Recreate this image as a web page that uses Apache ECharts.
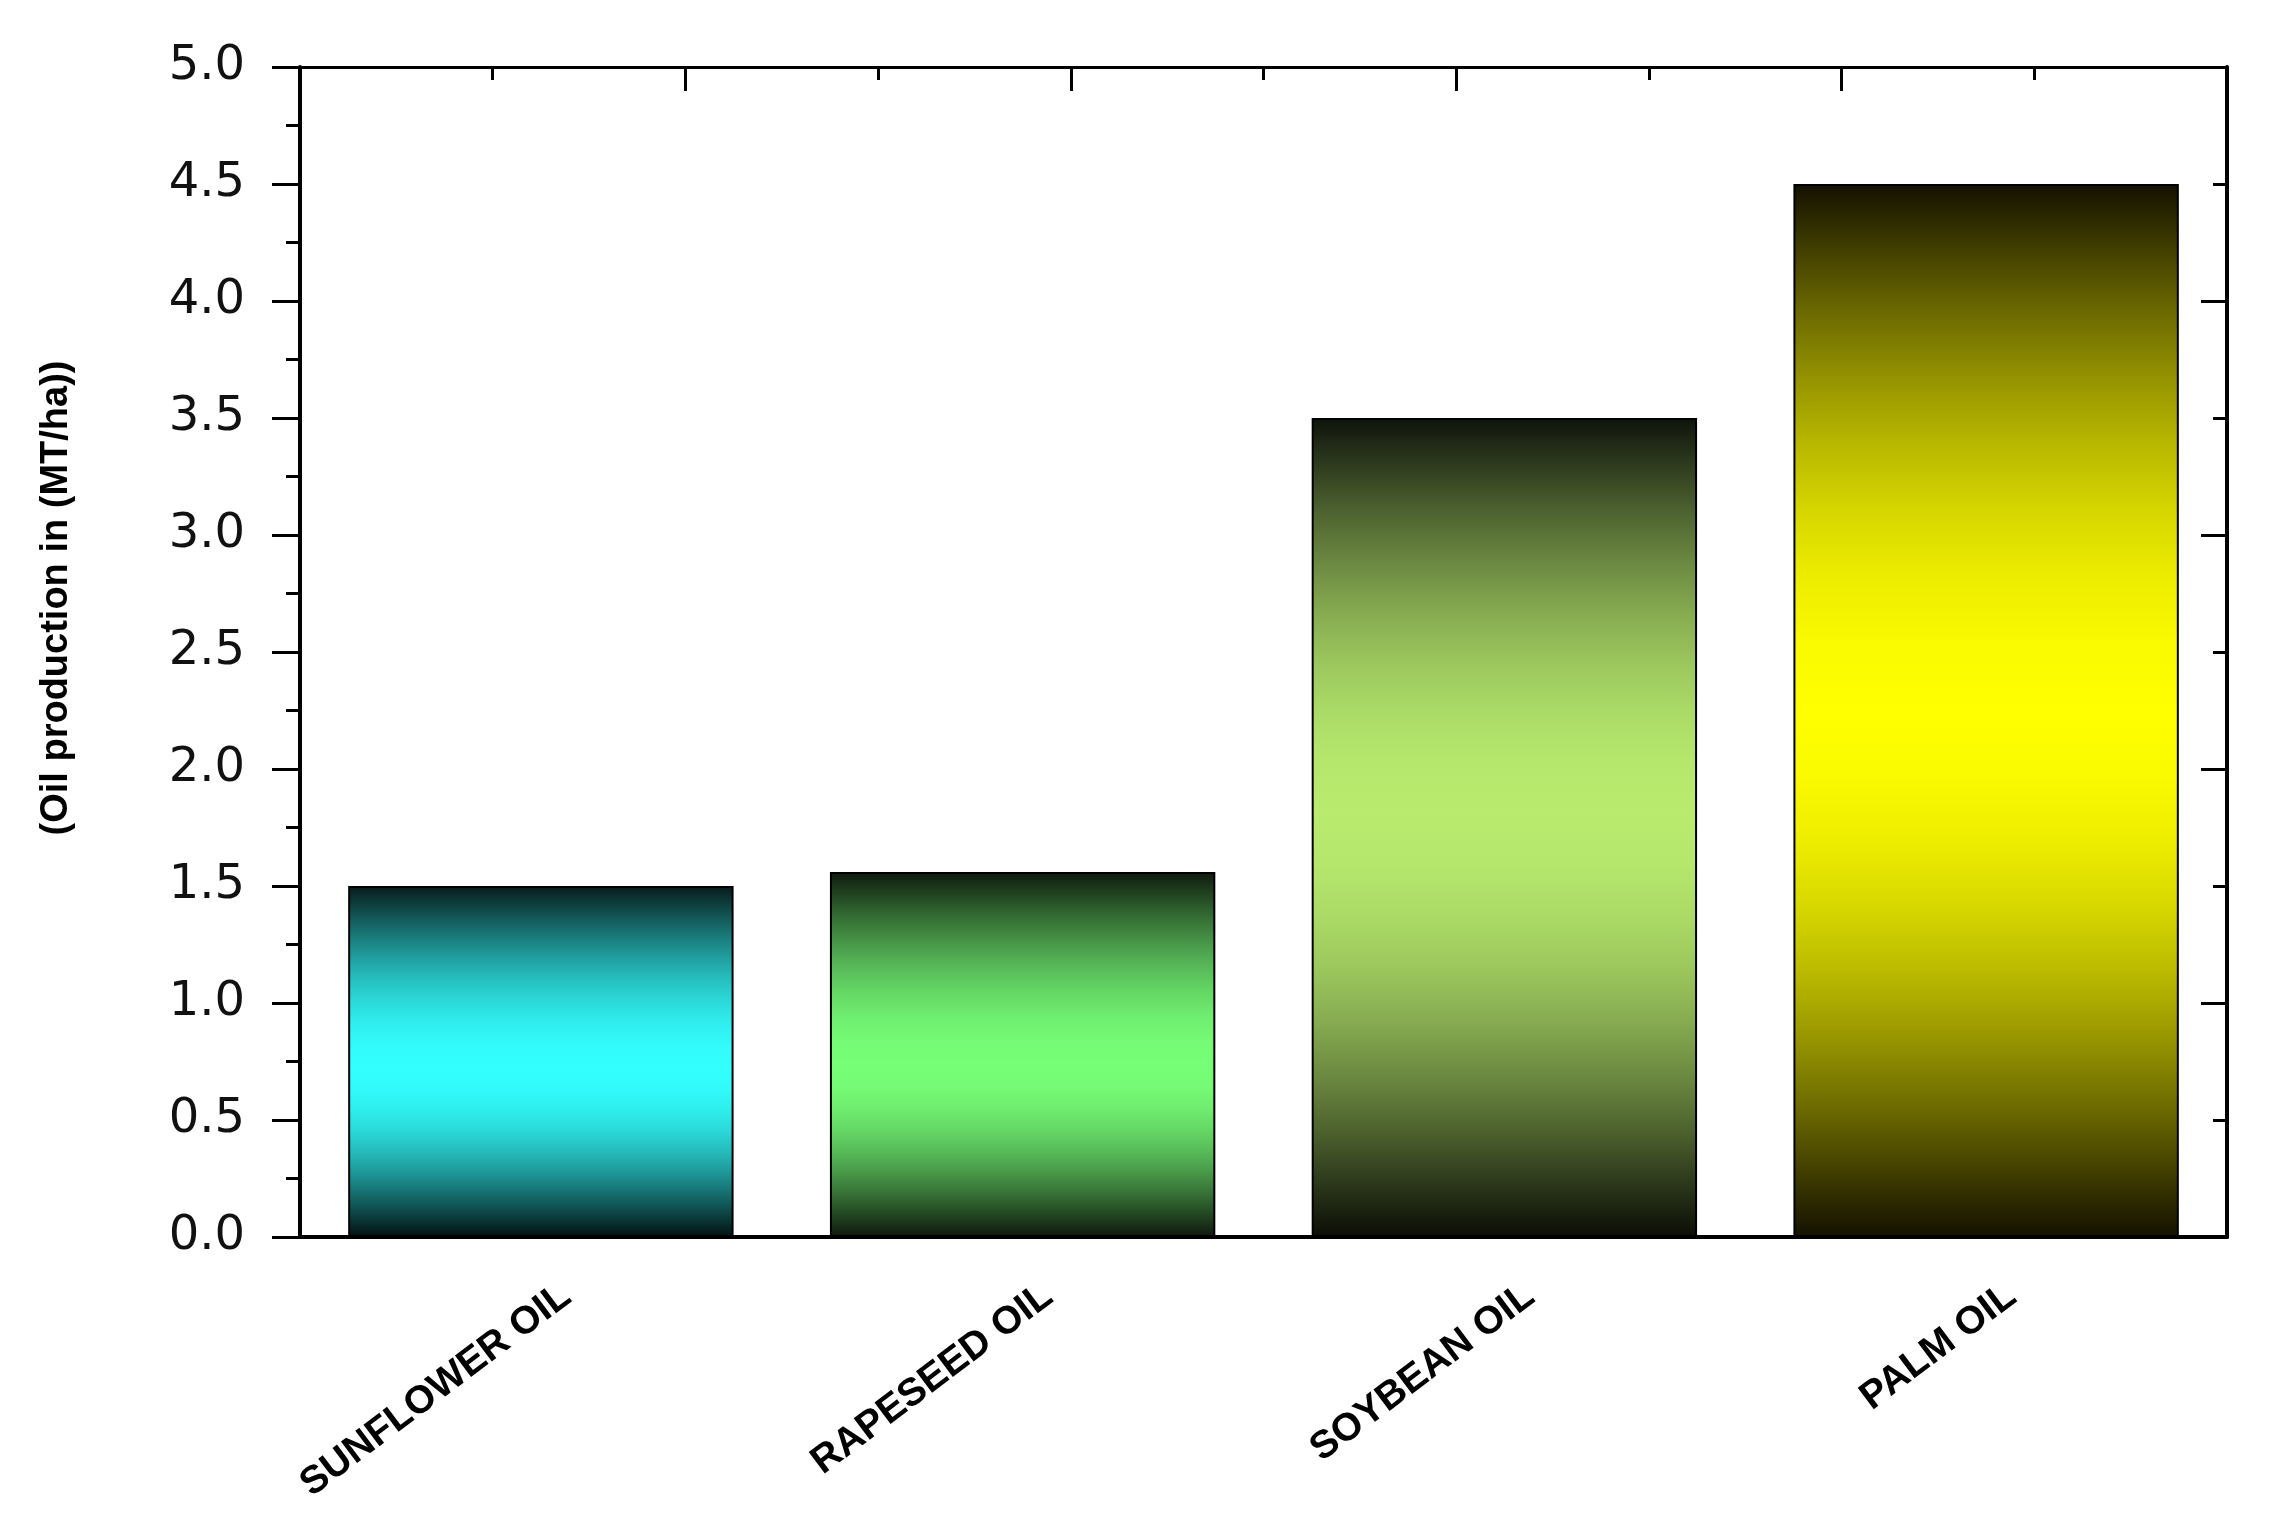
<!DOCTYPE html>
<html>
<head>
<meta charset="utf-8">
<title>Oil production</title>
<script src="https://cdn.jsdelivr.net/npm/echarts@6/dist/echarts.min.js"></script>
<style>
  html, body { margin: 0; padding: 0; background: #fff; }
  #chart { width: 2278px; height: 1523px; }
</style>
</head>
<body>
<div id="chart"></div>
<script>
// data
const categories = ['SUNFLOWER OIL', 'RAPESEED OIL', 'SOYBEAN OIL', 'PALM OIL']
const production = [1.5, 1.56, 3.5, 4.5]

// bar shading: dark at both ends, bright in the middle
const edgeTop = ['#081a1a', '#0f1a0f', '#0f130c', '#141100']
const peakColor = ['#33ffff', '#77ff77', '#b8eb6e', '#ffff00']
const edgeBottom = ['#021010', '#0d170d', '#0a0d06', '#141100']
const peakAt = [0.52, 0.53, 0.48, 0.5]

const chart = echarts.init(document.getElementById('chart'))

// mix two hex colours, t = 0 gives a, t = 1 gives b
const mix = (a, b, t) => {
  const pa = [1, 3, 5].map(k => parseInt(a.substr(k, 2), 16))
  const pb = [1, 3, 5].map(k => parseInt(b.substr(k, 2), 16))
  return 'rgb(' + pa.map((c, k) => Math.round(c + (pb[k] - c) * t)).join(',') + ')'
}

// smooth (sine shaped) shading between the ends and the bright band
const shade = i => {
  const stops = []
  const steps = 8
  for (let s = 0; s <= steps; s++) {
    const f = s / steps
    stops.push({ offset: peakAt[i] * f, color: mix(edgeTop[i], peakColor[i], Math.sin(f * Math.PI / 2)) })
  }
  for (let s = steps - 1; s >= 0; s--) {
    const f = s / steps
    stops.push({ offset: 1 - (1 - peakAt[i]) * f, color: mix(edgeBottom[i], peakColor[i], Math.sin(f * Math.PI / 2)) })
  }
  return new echarts.graphic.LinearGradient(0, 0, 0, 1, stops)
}

const barData = production.map((v, i) => ({
  value: v,
  itemStyle: { color: shade(i) }
}))

const lineStyle = w => ({ show: true, lineStyle: { color: '#000', width: w } })

const option = {
  backgroundColor: '#fff',
  animation: false,
  grid: { left: 300, right: 51, top: 67, bottom: 286, containLabel: false },
  xAxis: [
    {
      type: 'category',
      position: 'bottom',
      data: categories,
      axisLine: lineStyle(4),
      axisTick: { alignWithLabel: true, length: 21, lineStyle: { color: '#000', width: 3 } },
      axisLabel: {
        interval: 0,
        rotate: 37,
        margin: 74,
        padding: [0, -32, 0, 0],
        color: '#000',
        fontFamily: 'Liberation Sans',
        fontWeight: 'bold',
        fontSize: 39
      }
    },
    {
      type: 'category',
      position: 'bottom',
      data: categories,
      axisLine: { show: false },
      axisTick: { length: 9, lineStyle: { color: '#000', width: 3 } },
      axisLabel: { show: false }
    },
    {
      type: 'value',
      position: 'top',
      min: 0,
      max: 10,
      interval: 2,
      axisLine: lineStyle(3),
      axisTick: { inside: true, length: 24, lineStyle: { color: '#000', width: 3 } },
      minorTick: { show: true, splitNumber: 2, length: 13, lineStyle: { color: '#000', width: 3 } },
      axisLabel: { show: false },
      splitLine: { show: false }
    }
  ],
  yAxis: [
    {
      type: 'value',
      position: 'left',
      min: 0,
      max: 5,
      interval: 0.5,
      name: '(Oil production in (MT/ha))',
      nameLocation: 'middle',
      nameGap: 224,
      nameTextStyle: {
        color: '#000',
        fontFamily: 'Liberation Sans',
        fontWeight: 'bold',
        fontSize: 38,
        padding: [0, 0, 0, 108]
      },
      axisLine: lineStyle(4),
      axisTick: { length: 28, lineStyle: { color: '#000', width: 3 } },
      minorTick: { show: true, splitNumber: 2, length: 14, lineStyle: { color: '#000', width: 3 } },
      axisLabel: {
        margin: 55,
        color: '#111',
        fontFamily: 'DejaVu Sans',
        fontSize: 48,
        formatter: v => v.toFixed(1)
      },
      splitLine: { show: false }
    },
    {
      type: 'value',
      position: 'right',
      min: 0,
      max: 5,
      interval: 1,
      axisLine: lineStyle(4),
      axisTick: { inside: true, length: 26, lineStyle: { color: '#000', width: 3 } },
      minorTick: { show: true, splitNumber: 2, length: 14, lineStyle: { color: '#000', width: 3 } },
      axisLabel: { show: false },
      splitLine: { show: false }
    }
  ],
  series: [
    {
      type: 'bar',
      xAxisIndex: 0,
      yAxisIndex: 0,
      data: barData,
      barCategoryGap: '20%',
      itemStyle: { borderColor: '#000', borderWidth: 2 }
    }
  ]
}

chart.setOption(option)
</script>
</body>
</html>
